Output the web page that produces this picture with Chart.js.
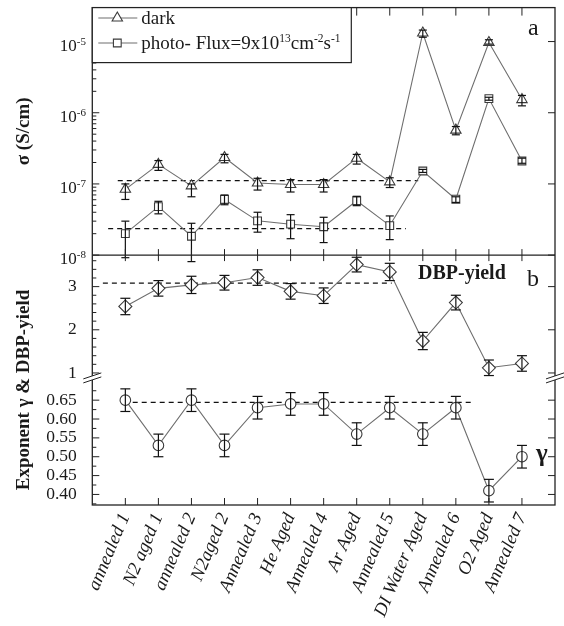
<!DOCTYPE html>
<html>
<head>
<meta charset="utf-8">
<title>Conductivity, exponent and DBP yield</title>
<script src="https://cdn.jsdelivr.net/npm/chart.js"></script>
<style>
  html, body { margin: 0; padding: 0; background: #fff; }
  #wrap { width: 564px; height: 626px; }
</style>
</head>
<body>
<div id="wrap"><canvas id="chart" width="564" height="626"></canvas></div>
<script>
// sample sequence
const categories = ['annealed 1', 'N2 aged 1', 'annealed 2', 'N2aged 2', 'Annealed 3', 'He Aged',
  'Annealed 4', 'Ar Aged', 'Annealed 5', 'DI Water Aged', 'Annealed 6', 'O2 Aged', 'Annealed 7'];

// conductivity, S/cm
const darkSigma = [8.4e-8, 1.88e-7, 9.4e-8, 2.35e-7, 1.03e-7, 9.8e-8, 9.8e-8, 2.3e-7, 1.07e-7, 1.32e-5, 5.7e-7, 9.7e-6, 1.53e-6];
const darkLow   = [6.05e-8, 1.55e-7, 6.6e-8, 1.98e-7, 8.2e-8, 7.7e-8, 7.7e-8, 1.9e-7, 8.9e-8, 1.15e-5, 4.9e-7, 9.2e-6, 1.25e-6];
const darkHigh  = [1.0e-7, 2.13e-7, 1.0e-7, 2.6e-7, 1.2e-7, 1.15e-7, 1.15e-7, 2.6e-7, 1.22e-7, 1.45e-5, 6.4e-7, 1.06e-5, 1.75e-6];

const photoSigma = [2.0e-8, 4.8e-8, 1.84e-8, 6.05e-8, 3.03e-8, 2.72e-8, 2.5e-8, 5.8e-8, 2.6e-8, 1.52e-7, 6.1e-8, 1.58e-6, 2.1e-7];
const photoLow   = [9.2e-9, 3.8e-8, 8.1e-9, 5.1e-8, 2.1e-8, 1.7e-8, 1.5e-8, 4.95e-8, 1.65e-8, 1.45e-7, 5.5e-8, 1.5e-6, 1.95e-7];
const photoHigh  = [3.0e-8, 5.7e-8, 2.8e-8, 7.0e-8, 4.0e-8, 3.7e-8, 3.4e-8, 6.7e-8, 3.55e-8, 1.6e-7, 6.6e-8, 1.65e-6, 2.3e-7];

// DBP yield and exponent gamma, symmetric errors
const dbpYield = [2.54, 2.96, 3.04, 3.09, 3.21, 2.89, 2.79, 3.51, 3.34, 1.74, 2.63, 1.12, 1.22];
const dbpErr   = [0.19, 0.18, 0.2, 0.17, 0.18, 0.18, 0.18, 0.17, 0.2, 0.2, 0.17, 0.18, 0.18];
const gamma    = [0.65, 0.53, 0.65, 0.53, 0.63, 0.64, 0.64, 0.56, 0.63, 0.56, 0.63, 0.41, 0.50];
const gammaErr = [0.03, 0.03, 0.03, 0.03, 0.03, 0.03, 0.03, 0.03, 0.03, 0.03, 0.03, 0.03, 0.03];

// dashed average levels: value and x extent
const darkMean = 1.11e-7,  darkMeanX = [-0.23, 8.86];
const photoMean = 2.35e-8, photoMeanX = [-0.52, 8.49];
const dbpMean = 3.08,      dbpMeanX = [-0.68, 8.06];
const gammaMean = 0.644,   gammaMeanX = [-0.05, 10.56];

// tick labels
const sigmaTicks = [1e-8, 1e-7, 1e-6, 1e-5];
const dbpTicks = [1, 2, 3];
const gammaTicks = [0.40, 0.45, 0.50, 0.55, 0.60, 0.65];

const SERIF = '"Liberation Serif", "Times New Roman", serif';
const INK = '#1a1a1a';
const LINE = '#6e6e6e';
const MARK = '#3a3a3a';

const pts = arr => arr.map((v, i) => ({ x: i, y: v }));
const flat = (xs, v) => xs.map(x => ({ x, y: v }));

function series(label, data, axis, style, radius) {
  return {
    label, data: pts(data), yAxisID: axis, order: 1,
    borderColor: LINE, borderWidth: 1.1,
    pointStyle: style, pointRadius: radius,
    pointBackgroundColor: '#fff', pointBorderColor: MARK, pointBorderWidth: 1.1
  };
}

function meanLine(xs, v, axis) {
  return {
    data: flat(xs, v), yAxisID: axis, order: 5,
    borderColor: '#111', borderWidth: 1.2, borderDash: [5, 4], pointRadius: 0
  };
}

function seg(ctx, x1, y1, x2, y2) {
  ctx.beginPath();
  ctx.moveTo(x1, y1);
  ctx.lineTo(x2, y2);
  ctx.stroke();
}

function errorBars(ctx, xs, ys, lows, highs, cap) {
  lows.forEach((lo, i) => {
    const px = xs.getPixelForValue(i);
    const y1 = ys.getPixelForValue(lo);
    const y2 = ys.getPixelForValue(highs[i]);
    seg(ctx, px, y1, px, y2);
    seg(ctx, px - cap / 2, y1, px + cap / 2, y1);
    seg(ctx, px - cap / 2, y2, px + cap / 2, y2);
  });
}

function marker(ctx, style, x, y, r) {
  ctx.beginPath();
  if (style === 'triangle') {
    for (let k = 0; k < 3; k++) {
      const a = k * 2 * Math.PI / 3;
      const px = x + Math.sin(a) * r, py = y - Math.cos(a) * r;
      k ? ctx.lineTo(px, py) : ctx.moveTo(px, py);
    }
    ctx.closePath();
  } else {
    const s = r * Math.SQRT1_2;
    ctx.rect(x - s, y - s, 2 * s, 2 * s);
  }
  ctx.fill();
  ctx.stroke();
}

// frame, inward ticks, error bars, legend and annotations
const decorations = {
  id: 'decorations',
  afterDatasetsDraw(chart) {
    const { ctx, chartArea: ca, scales } = chart;
    const { x, yA, yB, yG } = scales;
    ctx.save();

    ctx.strokeStyle = '#111';
    ctx.lineWidth = 1.2;
    errorBars(ctx, x, yA, darkLow, darkHigh, 8);
    errorBars(ctx, x, yA, photoLow, photoHigh, 8);
    errorBars(ctx, x, yB, dbpYield.map((v, i) => v - dbpErr[i]), dbpYield.map((v, i) => v + dbpErr[i]), 10);
    errorBars(ctx, x, yG, gamma.map((v, i) => v - gammaErr[i]), gamma.map((v, i) => v + gammaErr[i]), 10);

    // box and panel separator
    ctx.strokeStyle = '#222';
    ctx.lineWidth = 1.3;
    ctx.strokeRect(ca.left, ca.top, ca.right - ca.left, ca.bottom - ca.top);
    const sep = yA.bottom;
    seg(ctx, ca.left, sep, ca.right, sep);

    ctx.lineWidth = 1;
    categories.forEach((c, i) => {
      const px = x.getPixelForValue(i);
      seg(ctx, px, ca.top, px, ca.top + 8);
      seg(ctx, px, sep - 6, px, sep + 6);
      seg(ctx, px, ca.bottom, px, ca.bottom - 7);
    });

    // left major + minor ticks, right major ticks
    const majors = (scale, ticks) => ticks.forEach(t => {
      const py = scale.getPixelForValue(t);
      seg(ctx, ca.left, py, ca.left + 7, py);
      seg(ctx, ca.right, py, ca.right - 7, py);
    });
    const minor = (scale, v) => {
      const py = scale.getPixelForValue(v);
      if (py > scale.top + 1 && py < scale.bottom - 1) seg(ctx, ca.left, py, ca.left + 4, py);
    };
    majors(yA, sigmaTicks);
    majors(yB, dbpTicks);
    majors(yG, gammaTicks);
    for (let e = -8; e <= -5; e++) {
      for (let k = 2; k <= 9; k++) minor(yA, k * Math.pow(10, e));
    }
    for (let v = 0.2; v < 3.8; v += 0.2) {
      if (Math.abs(v - Math.round(v)) > 0.05) minor(yB, v);
    }
    for (let v = 0.375; v < 0.71; v += 0.05) minor(yG, v);

    // axis break between the two lower panels
    const brk = yB.bottom;
    [ca.left, ca.right].forEach(ax => {
      ctx.fillStyle = '#fff';
      ctx.fillRect(ax - 2, brk - 2, 4, 4);
      ctx.strokeStyle = '#222';
      seg(ctx, ax - 9, brk + 1, ax + 9, brk - 5);
      seg(ctx, ax - 9, brk + 5, ax + 9, brk - 1);
    });

    // log tick labels with superscript exponents
    ctx.fillStyle = INK;
    ctx.textAlign = 'right';
    ctx.textBaseline = 'alphabetic';
    sigmaTicks.forEach(t => {
      const py = yA.getPixelForValue(t);
      const exp = String(Math.round(Math.log10(t)));
      ctx.font = '11px ' + SERIF;
      const ew = ctx.measureText(exp).width;
      ctx.fillText(exp, 86, py + 3);
      ctx.font = '17px ' + SERIF;
      ctx.fillText('10', 86 - ew, py + 9);
    });

    // axis titles
    ctx.textAlign = 'center';
    ctx.textBaseline = 'middle';
    ctx.font = 'bold 19px ' + SERIF;
    [['σ (S/cm)', (yA.top + yA.bottom) / 2], ['Exponent γ & DBP-yield', 390]].forEach(([t, cy]) => {
      ctx.save();
      ctx.translate(24, cy);
      ctx.rotate(-Math.PI / 2);
      ctx.fillText(t, 0, 0);
      ctx.restore();
    });

    // panel annotations
    ctx.textAlign = 'left';
    ctx.textBaseline = 'alphabetic';
    ctx.font = '24px ' + SERIF;
    ctx.fillText('a', 528, 35);
    ctx.fillText('b', 527, 286);
    ctx.font = 'bold 20px ' + SERIF;
    ctx.fillText('DBP-yield', 418, 279);
    ctx.font = 'bold 25px ' + SERIF;
    ctx.fillText('γ', 536, 461);

    // legend
    const lx = ca.left, ly = ca.top;
    ctx.fillStyle = '#fff';
    ctx.fillRect(lx, ly, 259, 55);
    ctx.strokeStyle = '#222';
    ctx.lineWidth = 1.2;
    ctx.strokeRect(lx, ly, 259, 55);
    [['triangle', 6, 18], ['rect', 5.5, 43]].forEach(([style, r, yy]) => {
      ctx.strokeStyle = LINE;
      ctx.lineWidth = 1.1;
      seg(ctx, lx + 6, yy, lx + 45, yy);
      ctx.fillStyle = '#fff';
      ctx.strokeStyle = MARK;
      marker(ctx, style, lx + 25, yy, r);
    });
    ctx.fillStyle = INK;
    ctx.font = '19px ' + SERIF;
    ctx.fillText('dark', lx + 49, 24);
    let tx = lx + 49;
    const run = (txt, size, dy) => {
      ctx.font = size + 'px ' + SERIF;
      ctx.fillText(txt, tx, 49 + dy);
      tx += ctx.measureText(txt).width;
    };
    run('photo- Flux=9x10', 19, 0);
    run('13', 11.5, -7);
    run('cm', 19, 0);
    run('-2', 11.5, -7);
    run('s', 19, 0);
    run('-1', 11.5, -7);

    ctx.restore();
  }
};

const flatPad = s => { s.paddingTop = 0; s.paddingBottom = 0; s.paddingLeft = 0; s.paddingRight = 0; };

new Chart(document.getElementById('chart'), {
  type: 'line',
  data: {
    datasets: [
      series('dark', darkSigma, 'yA', 'triangle', 6),
      series('photo', photoSigma, 'yA', 'rect', 5.5),
      series('DBP-yield', dbpYield, 'yB', 'rectRot', 6.5),
      series('gamma', gamma, 'yG', 'circle', 5.3),
      meanLine(darkMeanX, darkMean, 'yA'),
      meanLine(photoMeanX, photoMean, 'yA'),
      meanLine(dbpMeanX, dbpMean, 'yB'),
      meanLine(gammaMeanX, gammaMean, 'yG')
    ]
  },
  options: {
    responsive: false,
    animation: false,
    layout: { padding: { top: 4, right: 9, left: 0, bottom: 0 } },
    plugins: { legend: { display: false }, tooltip: { enabled: false } },
    scales: {
      x: {
        type: 'linear', min: -1, max: 13,
        grid: { display: false, drawTicks: false },
        border: { display: false },
        afterBuildTicks: s => { s.ticks = categories.map((c, i) => ({ value: i })); },
        afterFit: s => { s.height = 121; flatPad(s); },
        ticks: {
          autoSkip: false, minRotation: 67, maxRotation: 67, padding: 5,
          color: INK, font: { family: SERIF, size: 18.5, style: 'italic' },
          callback: v => categories[v]
        }
      },
      yA: {
        type: 'logarithmic', position: 'left', stack: 'panels', stackWeight: 249.3, weight: 3,
        min: 1e-8, max: 3.0e-5,
        grid: { display: false, drawTicks: false },
        border: { display: false },
        afterBuildTicks: s => { s.ticks = sigmaTicks.map(v => ({ value: v })); },
        afterFit: s => { s.width = 92.3; flatPad(s); },
        ticks: { display: false }
      },
      yB: {
        type: 'linear', position: 'left', stack: 'panels', stackWeight: 123.7, weight: 2,
        min: 0.885, max: 3.73,
        grid: { display: false, drawTicks: false },
        border: { display: false },
        afterBuildTicks: s => { s.ticks = dbpTicks.map(v => ({ value: v })); },
        afterFit: s => { s.width = 92.3; flatPad(s); },
        ticks: { autoSkip: false, padding: 15.5, color: INK, font: { family: SERIF, size: 17.5 } }
      },
      yG: {
        type: 'linear', position: 'left', stack: 'panels', stackWeight: 128, weight: 1,
        min: 0.372, max: 0.709,
        grid: { display: false, drawTicks: false },
        border: { display: false },
        afterBuildTicks: s => { s.ticks = gammaTicks.map(v => ({ value: v })); },
        afterFit: s => { s.width = 92.3; flatPad(s); },
        ticks: { autoSkip: false, padding: 15.5, color: INK, font: { family: SERIF, size: 17.5 }, callback: v => v.toFixed(2) }
      }
    }
  },
  plugins: [decorations]
});
</script>
</body>
</html>
